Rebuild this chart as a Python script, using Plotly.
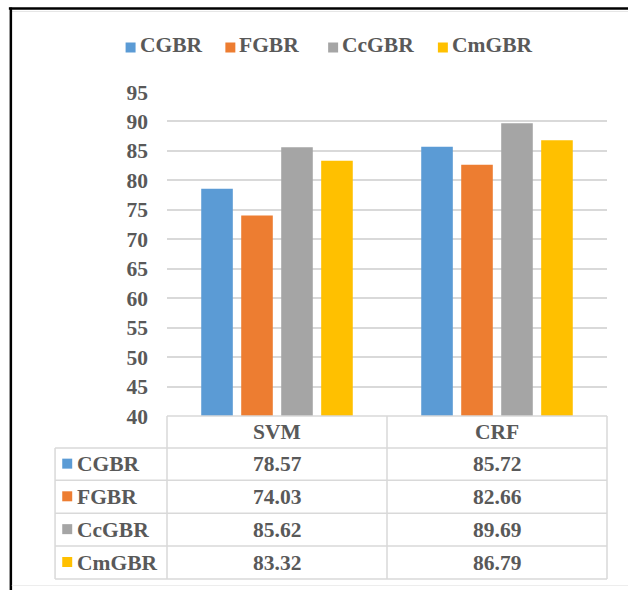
import plotly.graph_objects as go

# Accuracy (%) of each feature set under the two classifiers
classifiers = ["SVM", "CRF"]
series_names = ["CGBR", "FGBR", "CcGBR", "CmGBR"]
cgbr = [78.57, 85.72]
fgbr = [74.03, 82.66]
ccgbr = [85.62, 89.69]
cmgbr = [83.32, 86.79]
y_ticks = [40, 45, 50, 55, 60, 65, 70, 75, 80, 85, 90, 95]

colors = ["#5B9BD5", "#ED7D31", "#A5A5A5", "#FFC000"]
text_color = "#595959"
line_color = "#D9D9D9"
FONT = "Liberation Serif, Times New Roman, serif"
FS = 21.5

W, H = 628, 590
L, R, T, B = 166.5, 20.5, 92, 174
PW, PH = W - L - R, H - T - B
BOTTOM = T + PH


def px(xp):
    return (xp - L) / PW


def py(yp):
    return (BOTTOM - yp) / PH


fig = go.Figure()
all_values = [cgbr, fgbr, ccgbr, cmgbr]
for name, vals, col in zip(series_names, all_values, colors):
    fig.add_trace(go.Bar(x=classifiers, y=vals, name=name, marker_color=col,
                         marker_line_width=0, showlegend=False))

shapes = []
annotations = []
bold = dict(family=FONT, size=FS, color=text_color, weight="bold")

# legend row across the top
legend_x = [125, 225, 328, 438]
for lx, name, col in zip(legend_x, series_names, colors):
    shapes.append(dict(type="rect", xref="paper", yref="paper",
                       x0=px(lx), x1=px(lx + 10), y0=py(52.5), y1=py(42.5),
                       fillcolor=col, line_width=0))
    annotations.append(dict(text=name, xref="paper", yref="paper",
                            x=px(lx + 12), y=py(45.5), xanchor="left",
                            yanchor="middle", showarrow=False, font=bold))

# data table under the plot
row_lines = [448, 480.3, 513.3, 546, 579]
row_centers = [(a + b) / 2 for a, b in zip(row_lines[:-1], row_lines[1:])]
left_col = 54.3
right_edge = L + PW
mid = L + PW / 2
tline = dict(color=line_color, width=1.5)
shapes.append(dict(type="line", xref="paper", yref="paper",
                   x0=px(L), x1=px(right_edge), y0=py(BOTTOM), y1=py(BOTTOM), line=tline))
for yl in row_lines:
    shapes.append(dict(type="line", xref="paper", yref="paper",
                       x0=px(left_col), x1=px(right_edge), y0=py(yl), y1=py(yl), line=tline))
shapes.append(dict(type="line", xref="paper", yref="paper",
                   x0=px(left_col), x1=px(left_col), y0=py(448), y1=py(579), line=tline))
for xl in [L, mid, right_edge]:
    shapes.append(dict(type="line", xref="paper", yref="paper",
                       x0=px(xl), x1=px(xl), y0=py(BOTTOM), y1=py(579), line=tline))

# header row
for c in classifiers:
    annotations.append(dict(text=c, xref="x", yref="paper", x=c,
                            y=py((BOTTOM + 448) / 2), xanchor="center",
                            yanchor="middle", showarrow=False, font=bold))

# series rows
for yc, name, vals, col in zip(row_centers, series_names, all_values, colors):
    shapes.append(dict(type="rect", xref="paper", yref="paper",
                       x0=px(61.5), x1=px(71.5), y0=py(yc + 4.5), y1=py(yc - 5.5),
                       fillcolor=col, line_width=0))
    annotations.append(dict(text=name, xref="paper", yref="paper",
                            x=px(74.5), y=py(yc), xanchor="left",
                            yanchor="middle", showarrow=False, font=bold))
    for c, v in zip(classifiers, vals):
        annotations.append(dict(text=f"{v:.2f}", xref="x", yref="paper", x=c,
                                y=py(yc), xanchor="center", yanchor="middle",
                                showarrow=False, font=bold))

# chart frame
shapes.append(dict(type="line", xref="paper", yref="paper",
                   x0=px(8), x1=px(W + 5), y0=py(8.5), y1=py(8.5),
                   line=dict(color="#000000", width=2.5)))
shapes.append(dict(type="line", xref="paper", yref="paper",
                   x0=px(11), x1=px(W + 5), y0=py(11.5), y1=py(11.5),
                   line=dict(color="#E6E6E6", width=1)))
shapes.append(dict(type="line", xref="paper", yref="paper",
                   x0=px(10), x1=px(10), y0=py(7.5), y1=py(H + 5),
                   line=dict(color="#000000", width=2.5)))
shapes.append(dict(type="line", xref="paper", yref="paper",
                   x0=px(11), x1=px(W + 5), y0=py(585.5), y1=py(585.5),
                   line=dict(color="#EDEDED", width=1)))

fig.update_layout(
    width=W, height=H,
    margin=dict(l=L, r=R, t=T, b=B, pad=0),
    paper_bgcolor="white", plot_bgcolor="white",
    barmode="group", bargap=0.273, bargroupgap=0.21,
    shapes=shapes, annotations=annotations,
    showlegend=False,
    font=dict(family=FONT, color=text_color),
)
fig.update_xaxes(showticklabels=False, showgrid=False, zeroline=False,
                 showline=False, ticks="")
fig.update_yaxes(range=[40, 95], tickvals=y_ticks, showgrid=True,
                 gridcolor=line_color, gridwidth=1.5, zeroline=False,
                 showline=False, ticks="", ticklabelstandoff=18,
                 tickfont=bold)

fig.write_html("out.html")
